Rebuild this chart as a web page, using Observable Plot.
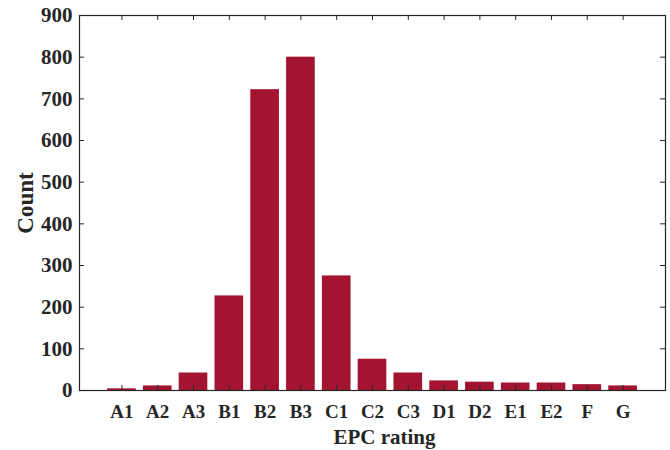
<!DOCTYPE html>
<html><head><meta charset="utf-8">
<script src="https://cdn.jsdelivr.net/npm/d3@7"></script>
<script src="https://cdn.jsdelivr.net/npm/@observablehq/plot@0.6"></script>
<style>body{margin:0;background:#fff}</style>
</head><body><div id="chart"></div>
<script>
const ratings = ["A1","A2","A3","B1","B2","B3","C1","C2","C3","D1","D2","E1","E2","F","G"];
const counts = [4, 11, 42, 227, 722, 800, 275, 75, 42, 23, 20, 18, 18, 14, 11];
const yTicks = [0, 100, 200, 300, 400, 500, 600, 700, 800, 900];
const xTitle = "EPC rating";
const yTitle = "Count";

const data = ratings.map((r, i) => ({rating: r, count: counts[i]}));
const W = 670, H = 450, mL = 79, mR = 5, mT = 15, mB = 60;
const fw = W - mL - mR, fh = H - mT - mB;
const ink = "#262626";
const txt = {fill: ink, fontWeight: "bold"};

const chart = Plot.plot({
  width: W, height: H,
  marginLeft: mL, marginRight: mR, marginTop: mT, marginBottom: mB,
  style: {fontFamily: "'Liberation Serif', 'Times New Roman', serif", background: "#fff"},
  x: {domain: ratings, paddingInner: 0.2, paddingOuter: 0.785, round: false, axis: null},
  y: {domain: [0, 900], axis: null},
  marks: [
    Plot.barY(data, {x: "rating", y: "count", fill: "#A2142F"}),
    Plot.tickY(yTicks, {y: d => d, insetRight: fw - 5, stroke: ink}),
    Plot.tickY(yTicks, {y: d => d, insetLeft: fw - 5, stroke: ink}),
    Plot.tickX(ratings, {x: d => d, insetTop: fh - 5, stroke: ink}),
    Plot.tickX(ratings, {x: d => d, insetBottom: fh - 5, stroke: ink}),
    Plot.frame({stroke: ink, strokeWidth: 1.2}),
    Plot.text(yTicks, {y: d => d, text: d => String(d), frameAnchor: "left", dx: -7, textAnchor: "end", lineAnchor: "middle", ...txt, fontSize: 21}),
    Plot.text(ratings, {x: d => d, text: d => d, frameAnchor: "bottom", dy: 21, textAnchor: "middle", lineAnchor: "middle", ...txt, fontSize: 19}),
    Plot.text([yTitle], {text: d => d, frameAnchor: "left", dx: -54, rotate: -90, textAnchor: "middle", lineAnchor: "middle", ...txt, fontSize: 23}),
    Plot.text([xTitle], {text: d => d, frameAnchor: "bottom", dy: 47, dx: 12, textAnchor: "middle", lineAnchor: "middle", ...txt, fontSize: 21})
  ]
});
document.getElementById("chart").appendChild(chart);
</script>
</body></html>
